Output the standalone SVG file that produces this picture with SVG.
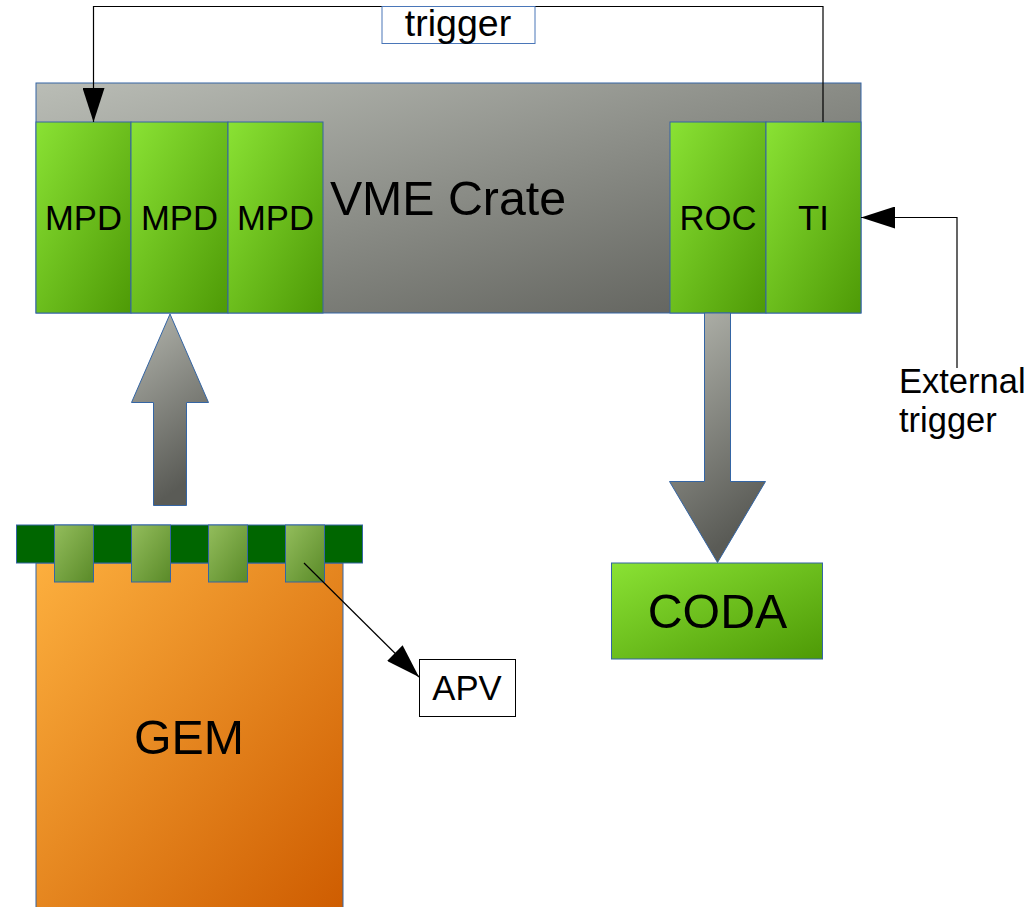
<svg xmlns="http://www.w3.org/2000/svg" width="1036" height="907" viewBox="0 0 1036 907">
  <defs>
    <linearGradient id="gGray" x1="0" y1="0" x2="1" y2="1">
      <stop offset="0" stop-color="#babdb6"/>
      <stop offset="1" stop-color="#5a5b56"/>
    </linearGradient>
    <linearGradient id="gArrow" x1="0" y1="0" x2="0.3" y2="1">
      <stop offset="0" stop-color="#b4b6ae"/>
      <stop offset="1" stop-color="#5a5b56"/>
    </linearGradient>
    <linearGradient id="gGreen" x1="0" y1="0" x2="1" y2="1">
      <stop offset="0" stop-color="#8ae234"/>
      <stop offset="1" stop-color="#4e9a06"/>
    </linearGradient>
    <linearGradient id="gChip" x1="0" y1="0" x2="1" y2="1">
      <stop offset="0" stop-color="#93bd5c"/>
      <stop offset="1" stop-color="#5a8a28"/>
    </linearGradient>
    <linearGradient id="gOrange" x1="0" y1="0" x2="1" y2="1">
      <stop offset="0" stop-color="#fcaf3e"/>
      <stop offset="1" stop-color="#ce5c00"/>
    </linearGradient>
    <marker id="head" viewBox="0 0 34 22" refX="34" refY="11" markerWidth="34" markerHeight="22" markerUnits="userSpaceOnUse" orient="auto">
      <path d="M0,0 L34,11 L0,22 Z" fill="#000"/>
    </marker>
  </defs>
  <style>
    .box { stroke: #3465a4; stroke-width: 1; }
    .lbl { font-family: "Liberation Sans", Arial, sans-serif; fill: #000; }
    .big { font-size: 48.3px; }
    .mid { font-size: 34.7px; }
    .wire { fill: none; stroke: #000; stroke-width: 1.2; }
  </style>

  <rect width="1036" height="907" fill="#fff"/>

  <!-- VME crate with its modules -->
  <g id="crate">
    <rect class="box" x="36" y="83" width="825" height="230" fill="url(#gGray)"/>
    <text class="lbl big" x="448" y="215" text-anchor="middle">VME Crate</text>
  </g>
  <g id="mpd1">
    <rect class="box" x="36" y="122" width="95" height="191" fill="url(#gGreen)"/>
    <text class="lbl mid" x="83.5" y="230" text-anchor="middle">MPD</text>
  </g>
  <g id="mpd2">
    <rect class="box" x="131" y="122" width="97" height="191" fill="url(#gGreen)"/>
    <text class="lbl mid" x="179.5" y="230" text-anchor="middle">MPD</text>
  </g>
  <g id="mpd3">
    <rect class="box" x="228" y="122" width="95" height="191" fill="url(#gGreen)"/>
    <text class="lbl mid" x="275.5" y="230" text-anchor="middle">MPD</text>
  </g>
  <g id="roc">
    <rect class="box" x="670" y="122" width="96" height="191" fill="url(#gGreen)"/>
    <text class="lbl mid" x="718" y="230" text-anchor="middle">ROC</text>
  </g>
  <g id="ti">
    <rect class="box" x="766" y="122" width="95" height="191" fill="url(#gGreen)"/>
    <text class="lbl mid" x="813.5" y="230" text-anchor="middle">TI</text>
  </g>

  <!-- GEM detector with APV front-end strip -->
  <g id="gem">
    <rect class="box" x="36" y="563" width="307" height="350" fill="url(#gOrange)"/>
    <rect class="box" x="16.5" y="525" width="346" height="38" fill="#006600"/>
    <rect class="box" x="54.5" y="525" width="39" height="57" fill="url(#gChip)"/>
    <rect class="box" x="131.5" y="525" width="39" height="57" fill="url(#gChip)"/>
    <rect class="box" x="208.5" y="525" width="39" height="57" fill="url(#gChip)"/>
    <rect class="box" x="285.5" y="525" width="39" height="57" fill="url(#gChip)"/>
    <text class="lbl big" x="189" y="753.5" text-anchor="middle">GEM</text>
  </g>

  <g id="coda">
    <rect class="box" x="611.5" y="563" width="211" height="96" fill="url(#gGreen)"/>
    <text class="lbl big" x="717.5" y="628" text-anchor="middle">CODA</text>
  </g>

  <g id="apv">
    <rect x="419.5" y="659.5" width="96" height="57" fill="#fff" stroke="#000" stroke-width="1"/>
    <text class="lbl mid" x="467" y="700" text-anchor="middle">APV</text>
  </g>

  <g id="ext-trigger">
    <text class="lbl" x="899" y="393" font-size="34.5">External</text>
    <text class="lbl" x="899" y="431.5" font-size="34.5">trigger</text>
  </g>

  <!-- connectors -->
  <g id="connectors">
    <!-- data flow: GEM to MPD, ROC to CODA -->
    <path class="box" d="M170,314 L208.5,402.5 L186.5,402.5 L186.5,505.5 L153.5,505.5 L153.5,402.5 L131.5,402.5 Z" fill="url(#gArrow)"/>
    <path class="box" d="M704.5,313 L730.5,313 L730.5,481.5 L765.5,481.5 L717.5,562.5 L669.5,481.5 L704.5,481.5 Z" fill="url(#gArrow)"/>
    <!-- trigger distribution from TI to the MPDs -->
    <path class="wire" d="M823,122 L823,6.5 L93.5,6.5 L93.5,122" marker-end="url(#head)"/>
    <!-- external trigger into TI -->
    <path class="wire" d="M957,368 L957,217.5 L861,217.5" marker-end="url(#head)"/>
    <!-- APV callout -->
    <path class="wire" d="M304,563 L419,677" marker-end="url(#head)"/>
  </g>

  <g id="trigger-label">
    <rect x="382" y="6.5" width="153" height="37" fill="#fff" stroke="#4a76b8" stroke-width="1"/>
    <text class="lbl" x="458" y="36" font-size="37.5" text-anchor="middle">trigger</text>
  </g>
</svg>
